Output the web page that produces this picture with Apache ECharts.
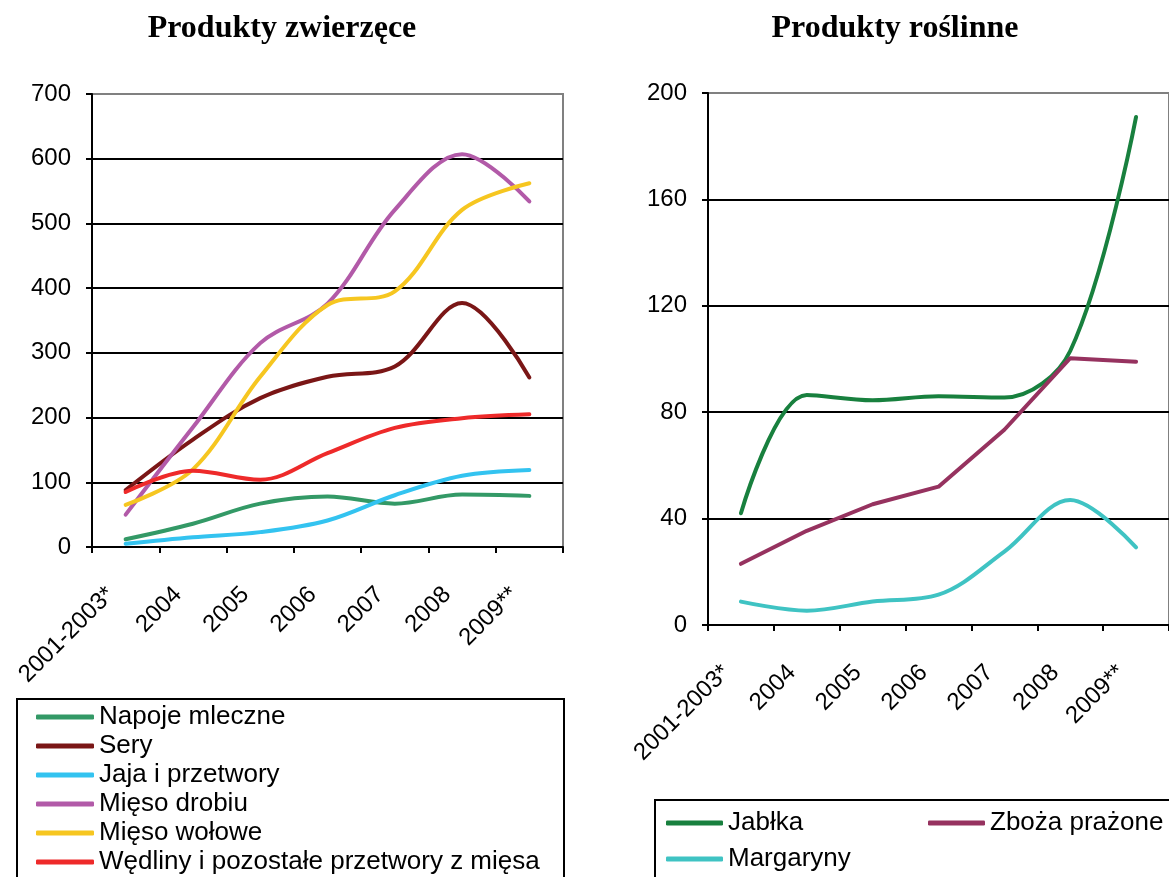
<!DOCTYPE html>
<html>
<head>
<meta charset="utf-8">
<script src="https://cdn.jsdelivr.net/npm/echarts@6/dist/echarts.min.js"></script>
<style>
	html, body { margin: 0; padding: 0; background: #fff; }
	#chart { width: 1169px; height: 877px; }
</style>
</head>
<body>
<div id="chart"></div>
<script>
// kategorie osi X (wspólne dla obu wykresów)
const categories = ['2001-2003*', '2004', '2005', '2006', '2007', '2008', '2009**'];

// Produkty zwierzęce
const napojeMleczne = [12, 36, 67, 78, 67, 81, 79];
const sery = [88, 166, 230, 263, 279, 377, 262];
const jaja = [5, 15, 23, 41, 80, 110, 119];
const miesoDrobiu = [50, 185, 315, 376, 521, 607, 534];
const miesoWolowe = [65, 120, 263, 374, 395, 521, 562];
const wedliny = [85, 118, 104, 145, 184, 199, 205];

// Produkty roślinne
const jablka = [42, 86.5, 84.5, 86, 85.5, 103, 191];
const zbozaPrazone = [23, 35.4, 45.4, 52, 73.4, 100.3, 99];
const margaryny = [8.8, 5.4, 8.8, 11.4, 27.6, 47, 29.2];

const SANS = '"Liberation Sans", Arial, sans-serif';
const SERIF = '"Liberation Serif", "Times New Roman", serif';

let myChart = echarts.init(document.getElementById('chart'), null, { renderer: 'canvas' });

function xAxisFor(gridIndex) {
	return {
		type: 'category',
		gridIndex: gridIndex,
		data: categories,
		boundaryGap: true,
		axisLine: { lineStyle: { color: '#000', width: 2 } },
		axisTick: { show: true, inside: false, length: 6, lineStyle: { color: '#000', width: 2 } },
		axisLabel: {
			rotate: 45,
			margin: 29,
			padding: [0, 21, 0, 0],
			color: '#000',
			fontFamily: SANS,
			fontSize: 24,
			interval: 0
		},
		splitLine: { show: false }
	};
}

function yAxisFor(gridIndex, max, interval) {
	let count = max / interval + 1;
	let colors = [];
	for (let i = 0; i < count; i++)
		colors.push(i === count - 1 ? '#808080' : '#000');
	return {
		type: 'value',
		gridIndex: gridIndex,
		min: 0,
		max: max,
		interval: interval,
		axisLine: { show: true, lineStyle: { color: '#000', width: 2 } },
		axisTick: { show: true, inside: false, length: 6, lineStyle: { color: '#000', width: 2 } },
		axisLabel: { margin: 21, color: '#000', fontFamily: SANS, fontSize: 24 },
		splitLine: { show: true, lineStyle: { color: colors, width: 2 } }
	};
}

function line(name, data, color, gridIndex, smooth) {
	return {
		name: name,
		type: 'line',
		xAxisIndex: gridIndex,
		yAxisIndex: gridIndex,
		data: data,
		smooth: smooth,
		symbol: 'none',
		lineStyle: { color: color, width: 4, cap: 'round', join: 'round' },
		itemStyle: { color: color },
		z: 3
	};
}

let option = {
	animation: false,
	backgroundColor: '#fff',
	title: [
		{
			text: 'Produkty zwierzęce',
			left: 282,
			top: 13,
			textAlign: 'center',
			padding: 0,
			textStyle: { fontFamily: SERIF, fontWeight: 'bold', fontSize: 32, color: '#000' }
		},
		{
			text: 'Produkty roślinne',
			left: 895,
			top: 13,
			textAlign: 'center',
			padding: 0,
			textStyle: { fontFamily: SERIF, fontWeight: 'bold', fontSize: 32, color: '#000' }
		}
	],
	grid: [
		{ left: 92, top: 94, width: 471, height: 453, show: true, borderColor: '#808080', borderWidth: 2, backgroundColor: 'transparent' },
		{ left: 708, top: 93, width: 469, height: 532, show: true, borderColor: '#808080', borderWidth: 2, backgroundColor: 'transparent' }
	],
	xAxis: [xAxisFor(0), xAxisFor(1)],
	yAxis: [yAxisFor(0, 700, 100), yAxisFor(1, 200, 40)],
	legend: [
		{
			orient: 'vertical',
			left: 17,
			top: 699,
			height: 240,
			padding: [5, 15, 20, 19],
			itemWidth: 58,
			itemHeight: 5,
			itemGap: 3,
			icon: 'roundRect',
			borderColor: '#000',
			borderWidth: 2,
			data: ['Napoje mleczne', 'Sery', 'Jaja i przetwory', 'Mięso drobiu', 'Mięso wołowe', 'Wędliny i pozostałe przetwory z mięsa'],
			textStyle: { fontFamily: SANS, fontSize: 26, lineHeight: 26, color: '#000', width: 450 }
		},
		{
			orient: 'horizontal',
			left: 655,
			top: 800,
			width: 520,
			height: 120,
			padding: [10, 10, 20, 11],
			itemWidth: 57,
			itemHeight: 5,
			itemGap: 10,
			icon: 'roundRect',
			borderColor: '#000',
			borderWidth: 2,
			data: ['Jabłka', 'Zboża prażone', 'Margaryny'],
			textStyle: { fontFamily: SANS, fontSize: 26, lineHeight: 26, color: '#000', width: 190 }
		}
	],
	series: [
		line('Napoje mleczne', napojeMleczne, '#339966', 0, 0.35),
		line('Sery', sery, '#7a1616', 0, 0.35),
		line('Jaja i przetwory', jaja, '#33c3f0', 0, 0.35),
		line('Mięso drobiu', miesoDrobiu, '#b25aa8', 0, 0.35),
		line('Mięso wołowe', miesoWolowe, '#f6c620', 0, 0.35),
		line('Wędliny i pozostałe przetwory z mięsa', wedliny, '#ee2a2a', 0, 0.35),
		line('Jabłka', jablka, '#18803e', 1, 0.35),
		line('Zboża prażone', zbozaPrazone, '#96325f', 1, false),
		line('Margaryny', margaryny, '#3fc3c3', 1, 0.35)
	]
};

option && myChart.setOption(option);
</script>
</body>
</html>
